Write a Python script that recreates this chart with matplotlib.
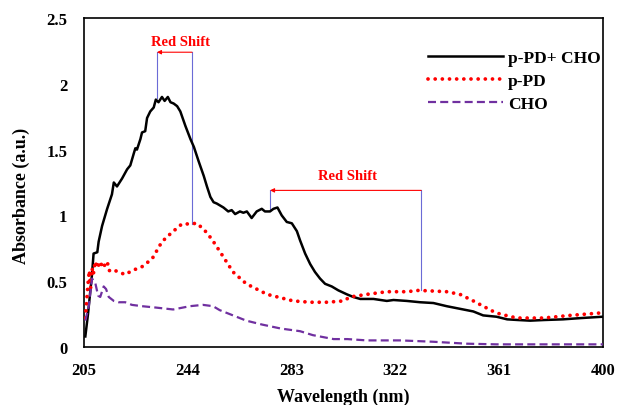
import numpy as np
import matplotlib.pyplot as plt

# longitudes de onda (nm) y absorbancias
wl_mix = [205.5, 206.5, 207.5, 208, 208.6, 210, 210.5, 211.8, 213.7, 215.5, 216.2, 217.4,
          219.3, 221.2, 222.4, 223.7, 224.3, 224.9, 226.2, 226.8, 228, 228.7, 229.9,
          231.2, 232, 233, 234.3, 235.3, 236.5, 237.5, 238.7, 240, 241.2, 243.1, 245,
          246.3, 248.1, 250, 251.2, 252.5, 253.7, 254.9, 257.4, 259.2, 260.5, 261.8,
          263.6, 264.9, 266.2, 268, 269.9, 271.8, 273, 274.9, 276.2, 277.7, 279.3,
          281.2, 283.1, 285, 286.2, 288.1, 290, 291.8, 293.7, 295.6, 298.1, 300.6,
          303.8, 306.2, 308.8, 313.8, 318.8, 321.3, 326.3, 331.3, 336.3, 341.3, 346.3,
          351.3, 355, 360, 364, 368, 372.7, 378, 385, 392, 400]
abs_mix = [0.08, 0.25, 0.45, 0.55, 0.71, 0.72, 0.80, 0.92, 1.05, 1.16, 1.25, 1.22,
           1.28, 1.35, 1.38, 1.47, 1.51, 1.50, 1.58, 1.63, 1.64, 1.74, 1.79,
           1.82, 1.88, 1.86, 1.90, 1.87, 1.90, 1.86, 1.85, 1.83, 1.79, 1.68, 1.58,
           1.52, 1.41, 1.30, 1.22, 1.14, 1.10, 1.09, 1.06, 1.03, 1.04, 1.01,
           1.03, 1.02, 1.03, 0.98, 1.03, 1.05, 1.03, 1.03, 1.05, 1.06, 1.00,
           0.95, 0.94, 0.88, 0.81, 0.71, 0.63, 0.57, 0.52, 0.48, 0.46, 0.43,
           0.40, 0.38, 0.365, 0.365, 0.35, 0.357, 0.35, 0.34, 0.334, 0.31, 0.29,
           0.27, 0.24, 0.23, 0.21, 0.205, 0.20, 0.205, 0.21, 0.22, 0.23]

wl_ppd = [205.5, 206, 206.5, 207, 207.5, 208, 208.5, 209.2, 210, 211.1, 212, 213.7, 214.5,
          215.5, 218, 220.5, 223, 226.8, 230.6, 234.3, 238, 241.8, 244.3, 247.5,
          250.6, 253, 255.6, 261, 266, 273.8, 283.6, 290, 296.4, 302.5, 305, 311.3,
          318.8, 326.3, 330.7, 336.3, 341.3, 346.3, 351.3, 355, 358.8, 361.4,
          367.7, 377.6, 387.7, 400]
abs_ppd = [0.22, 0.35, 0.48, 0.58, 0.45, 0.60, 0.55, 0.65, 0.60, 0.65, 0.60, 0.65, 0.58,
           0.59, 0.57, 0.55, 0.58, 0.61, 0.67, 0.80, 0.87, 0.935, 0.935, 0.94,
           0.88, 0.82, 0.74, 0.57, 0.48, 0.40, 0.35, 0.34, 0.34, 0.35, 0.38, 0.40,
           0.42, 0.42, 0.43, 0.425, 0.42, 0.40, 0.35, 0.31, 0.27, 0.25,
           0.22, 0.22, 0.24, 0.26]

wl_cho = [205.5, 206.8, 208, 209.2, 210.3, 211.1, 212.4, 213.3, 214.3, 216.2, 218, 220.5,
          223, 226.8, 231.8, 238.5, 244.8, 249.7, 253.5, 256, 261, 266, 272, 279,
          286.2, 291, 298.8, 304, 311.3, 323.8, 336, 348.8, 360, 380, 400]
abs_cho = [0.20, 0.31, 0.52, 0.49, 0.39, 0.38, 0.46, 0.44, 0.38, 0.35, 0.34, 0.34,
           0.32, 0.31, 0.30, 0.285, 0.31, 0.32, 0.31, 0.28, 0.24, 0.20, 0.17, 0.14,
           0.12, 0.09, 0.06, 0.06, 0.05, 0.05, 0.04, 0.025, 0.02, 0.02, 0.02]

# flechas de "Red Shift": (x inicio, x fin, y flecha, y pico inicio, y pico fin)
shifts = [(245.6, 232.4, 2.24, 0.935, 1.89),
          (331.7, 274.9, 1.19, 0.43, 1.03)]
shift_text = [(241.1, 2.325), (304.2, 1.30)]

plt.rcParams['font.family'] = ['Liberation Serif', 'DejaVu Serif']
plt.rcParams['font.weight'] = 'bold'

fig = plt.figure(figsize=(6.19, 4.06), dpi=100)
ax = fig.add_axes([0.1357, 0.1429, 0.8383, 0.8103])

ax.plot(wl_mix, abs_mix, color='black', lw=1.8, label='p-PD+ CHO', zorder=3)
ax.plot(wl_ppd, abs_ppd, color='#ff0000', lw=2.7, linestyle=(0, (0.01, 1.9)),
        dash_capstyle='round', label='p-PD', zorder=3)
ax.plot(wl_cho, abs_cho, color='#7030a0', lw=1.6, linestyle=(0, (3.6, 1.9)),
        label='CHO', zorder=3)

# lineas azules y flechas rojas
for x0, x1, ya, y0, y1 in shifts:
    ax.plot([x0, x0], [ya, y0], color='#6b6bd6', lw=0.8, zorder=2)
    ax.plot([x1, x1], [ya, y1], color='#6b6bd6', lw=0.8, zorder=2)
    ax.annotate('', xy=(x1, ya), xytext=(x0, ya),
                arrowprops=dict(arrowstyle='-|>', color='#ff0000', lw=0.8,
                                mutation_scale=6, shrinkA=0, shrinkB=0))
for tx, ty in shift_text:
    ax.text(tx, ty, 'Red Shift', color='#ff0000', fontsize=10.5, fontweight='bold',
            ha='center', va='center')

ax.set_xlim(205, 400)
ax.set_ylim(0, 2.5)
ax.set_xticks([205, 244, 283, 322, 361, 400])
ax.set_yticks([0, 0.5, 1, 1.5, 2, 2.5])
ax.set_yticklabels(['0', '0.5', '1', '1.5', '2', '2.5'])
ax.tick_params(length=0, labelsize=12)
ax.tick_params(axis='x', pad=11)
ax.tick_params(axis='y', pad=12)
for s in ax.spines.values():
    s.set_linewidth(1.2)

ax.set_xlabel('Wavelength (nm)', fontsize=13, fontweight='bold', labelpad=7)
ax.set_ylabel('Absorbance (a.u.)', fontsize=13, fontweight='bold')
ax.yaxis.set_label_coords(-0.105, 0.462)

ax.legend(loc='upper right', bbox_to_anchor=(1.026, 0.95), frameon=False, fontsize=12.5,
          handlelength=4.3, handletextpad=0.3, labelspacing=0.4)

fig.savefig('out.png', dpi=100)
